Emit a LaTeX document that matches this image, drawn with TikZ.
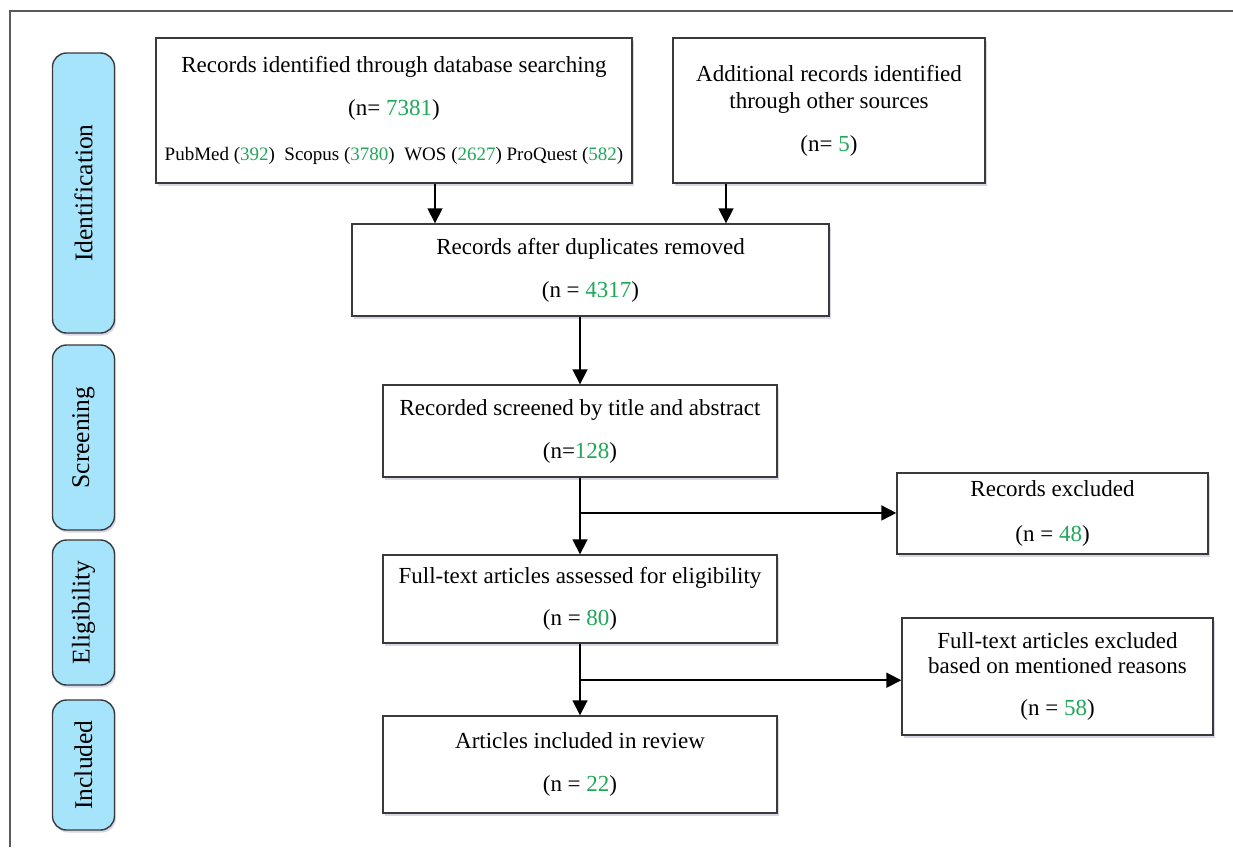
\documentclass[tikz,border=0pt]{standalone}
\usepackage{fontspec}
\setmainfont{Liberation Serif}
\usetikzlibrary{arrows.meta,shadows}
\definecolor{numgreen}{RGB}{32,168,88}
\definecolor{tabblue}{RGB}{166,228,251}
\definecolor{edgegray}{RGB}{58,58,58}
\definecolor{framegray}{RGB}{90,90,90}
\newcommand{\gn}[1]{\textcolor{numgreen}{#1}}
\tikzset{
  flowbox/.style={draw=edgegray, line width=1.4pt, fill=white, align=center,
    inner sep=0pt, font=\fontsize{23}{28}\selectfont,
    drop shadow={shadow xshift=1.5pt, shadow yshift=-2.5pt, fill=blue!25!gray, opacity=0.25}},
  phasetab/.style={draw=edgegray, line width=1.4pt, fill=tabblue, rounded corners=14pt,
    minimum width=62pt, inner sep=0pt, font=\fontsize{25.5}{28}\selectfont,
    drop shadow={shadow xshift=1.5pt, shadow yshift=-2.5pt, fill=blue!25!gray, opacity=0.25}},
  arr/.style={line width=1.7pt, draw=black, -{Triangle[width=15pt,length=15pt]}}
}
\begin{document}
\begin{tikzpicture}[x=1pt,y=-1pt]
\useasboundingbox (0,0) rectangle (1233,847);
\fill[white] (0,0) rectangle (1233,847);
\draw[framegray, line width=1.8pt] (10,847) -- (10,11) -- (1233,11);

% phase tabs
\node[phasetab, minimum height=280pt] (tid) at (83.5,193) {\rotatebox{90}{Identification}};
\node[phasetab, minimum height=185pt] (tsc) at (83.5,437.5) {\rotatebox{90}{Screening}};
\node[phasetab, minimum height=145pt] (tel) at (83.5,612.5) {\rotatebox{90}{Eligibility}};
\node[phasetab, minimum height=130pt] (tin) at (83.5,765) {\rotatebox{90}{Included}};

% boxes
\node[flowbox, minimum width=476pt, minimum height=145pt] (b1) at (394,110.5)
  {Records identified through database searching\\[15pt]
   (n= \gn{7381})\\[17pt]
   {\fontsize{19}{23}\selectfont PubMed (\gn{392})\ \ Scopus (\gn{3780})\ \ WOS (\gn{2627}) ProQuest (\gn{582})}};
\node[flowbox, minimum width=312pt, minimum height=145pt] (b2) at (829,110.5)
  {Additional records identified\\[-1pt]
   through other sources\\[15pt]
   (n= \gn{5})};
\node[flowbox, minimum width=477pt, minimum height=92pt] (b3) at (590.5,270)
  {Records after duplicates removed\\[15pt]
   (n = \gn{4317})};
\node[flowbox, minimum width=394pt, minimum height=92pt] (b4) at (580,431)
  {Recorded screened by title and abstract\\[15pt]
   (n=\gn{128})};
\node[flowbox, minimum width=311pt, minimum height=81pt] (b5) at (1052.5,513.5)
  {Records excluded\\[17pt]
   (n = \gn{48})};
\node[flowbox, minimum width=394pt, minimum height=88pt] (b6) at (580,599)
  {Full-text articles assessed for eligibility\\[14pt]
   (n = \gn{80})};
\node[flowbox, minimum width=311pt, minimum height=117pt] (b7) at (1057.5,676.5)
  {Full-text articles excluded\\[-3pt]
   based on mentioned reasons\\[14pt]
   (n = \gn{58})};
\node[flowbox, minimum width=394pt, minimum height=97pt] (b8) at (580,764.5)
  {Articles included in review\\[15pt]
   (n = \gn{22})};

% connectors
\coordinate (c1) at (435,0);
\coordinate (c2) at (726,0);
\draw[arr] (c1 |- b1.south) -- (c1 |- b3.north);
\draw[arr] (c2 |- b2.south) -- (c2 |- b3.north);
\draw[arr] (b4.north |- b3.south) -- (b4.north);
\path (b4.south) -- (b6.north) coordinate[pos=0.46] (j1);
\path (b6.south) -- (b8.north) coordinate[pos=0.51] (j2);
\draw[arr] (b4.south) -- (b6.north);
\draw[arr] (j1) -- (j1 -| b5.west);
\draw[arr] (b6.south) -- (b8.north);
\draw[arr] (j2) -- (j2 -| b7.west);
\end{tikzpicture}
\end{document}
